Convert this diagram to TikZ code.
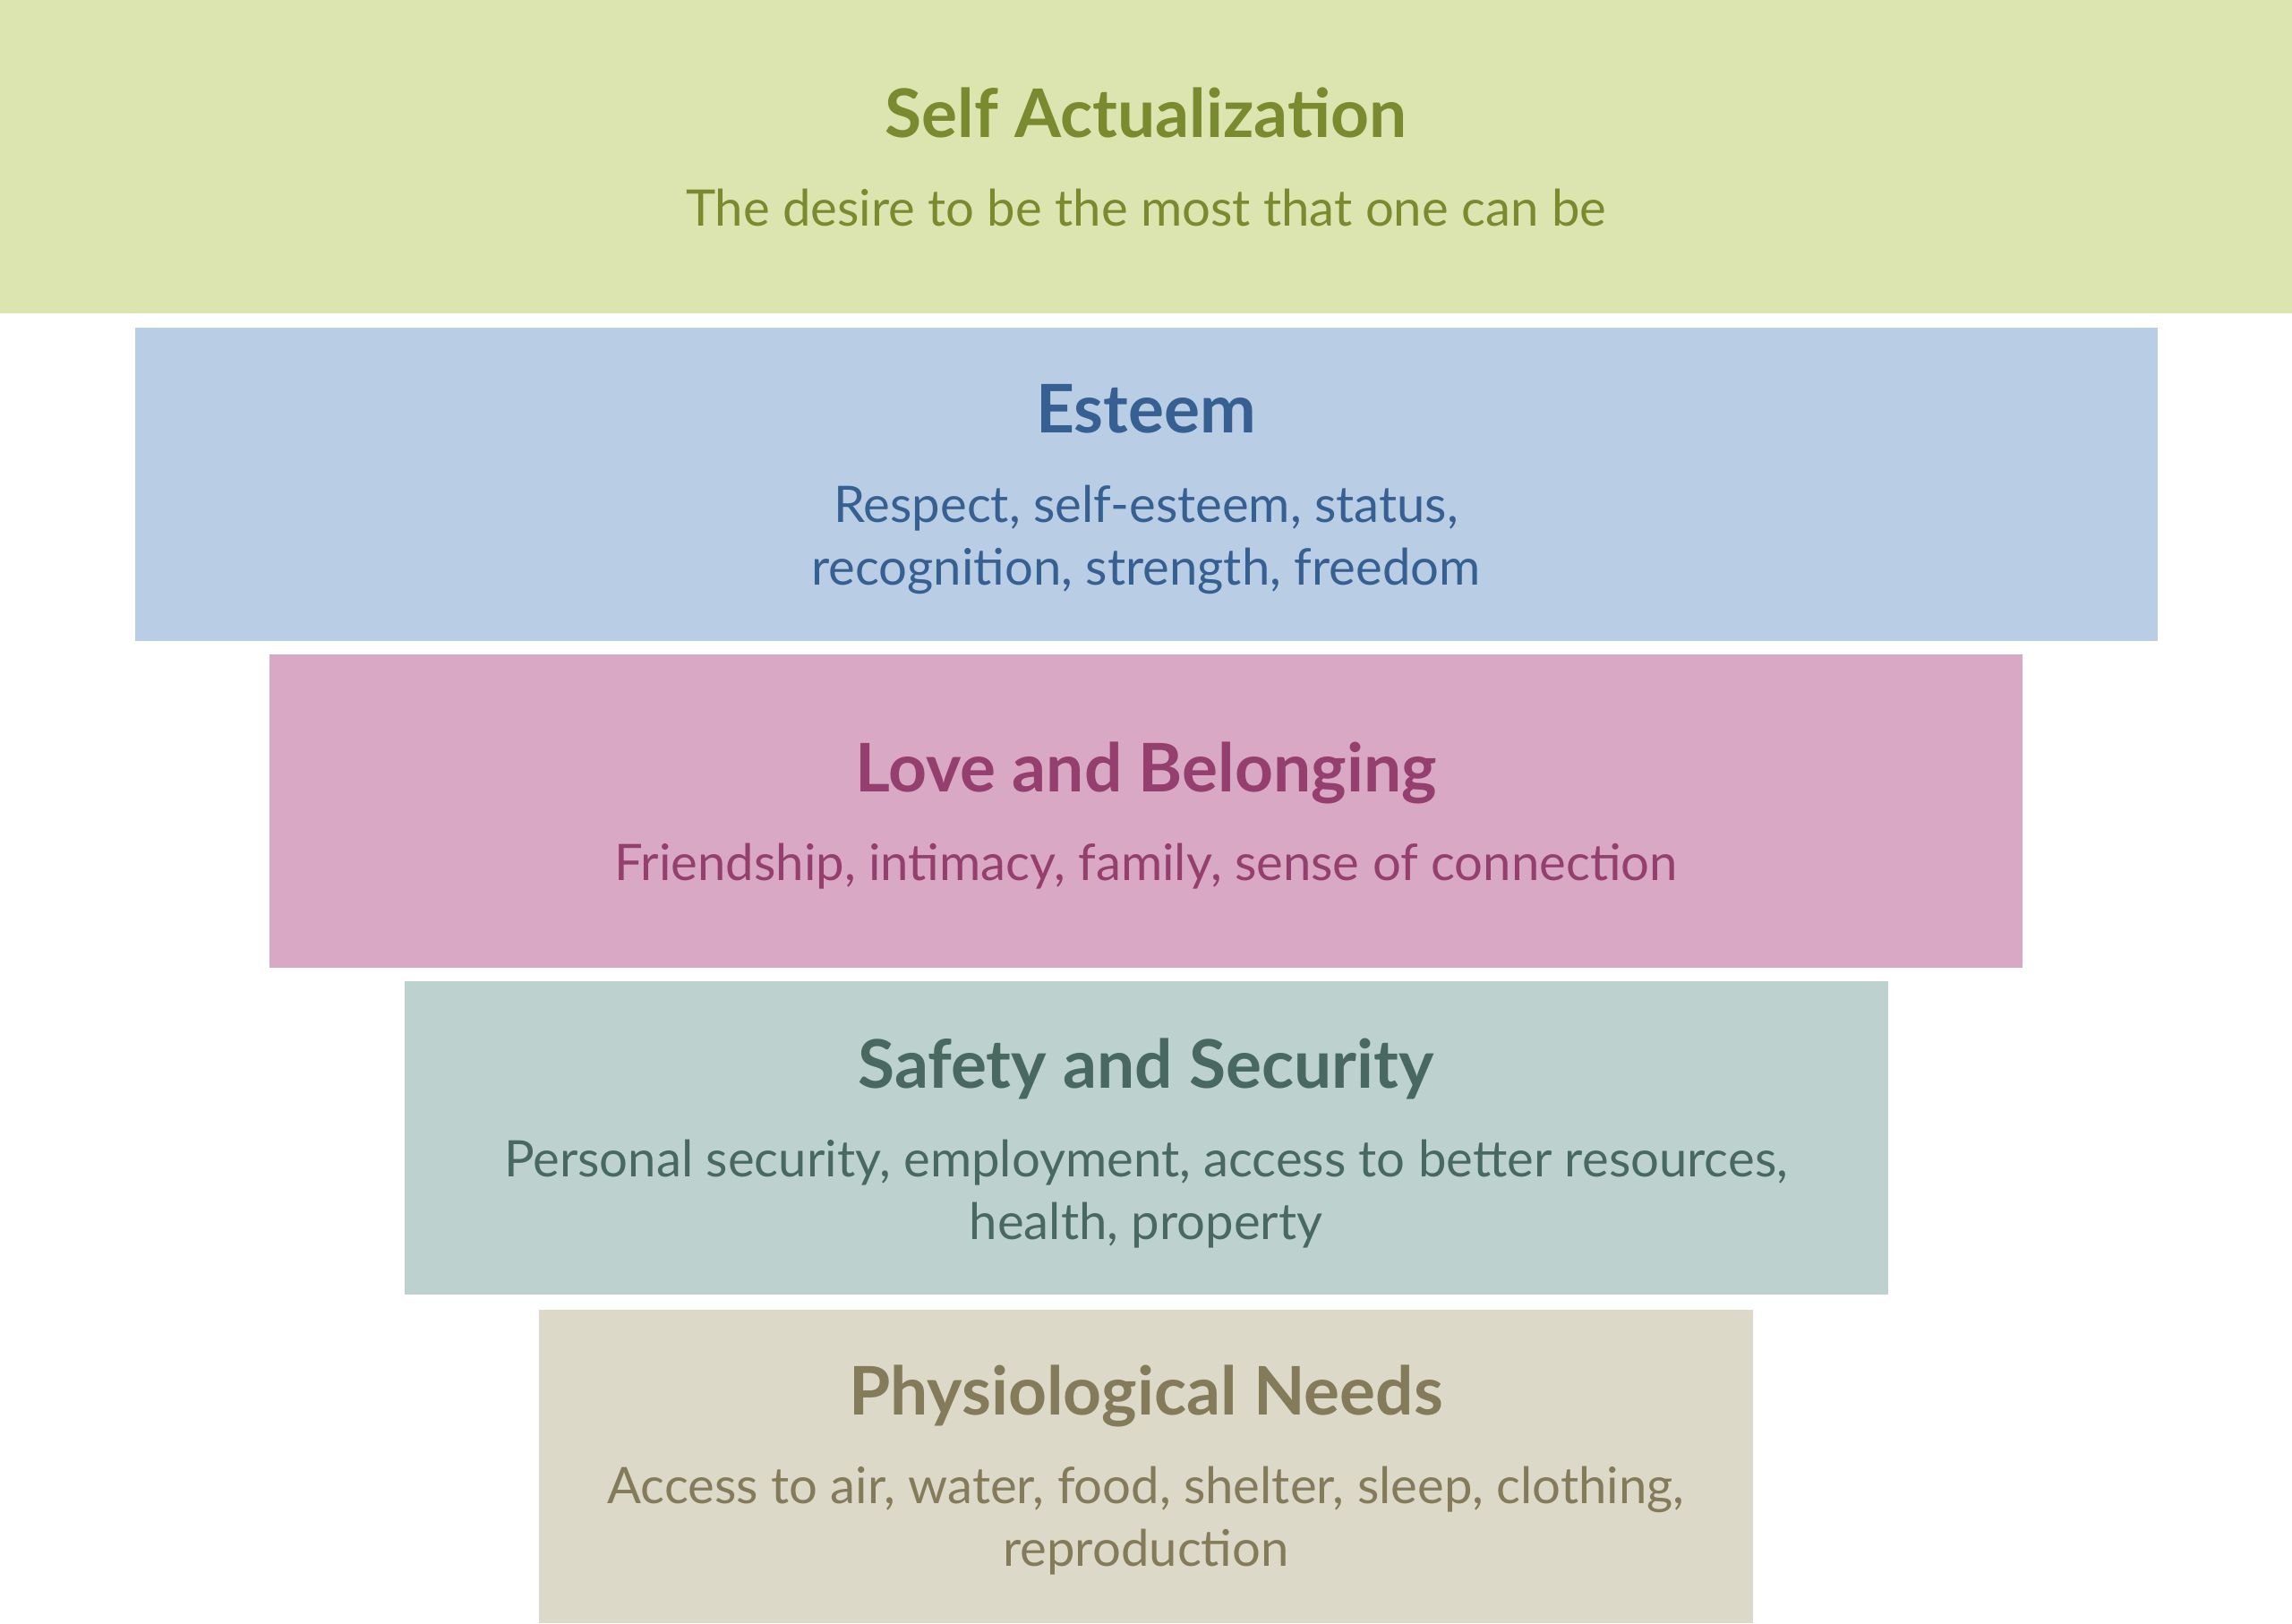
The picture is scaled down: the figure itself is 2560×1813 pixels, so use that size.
\documentclass[tikz,border=0pt]{standalone}
\usepackage{fontspec}
\setmainfont{Lato}
\usepackage{xcolor}
\usepackage{tikz}
\usetikzlibrary{positioning}

\definecolor{selffill}{RGB}{220,228,175}
\definecolor{selftext}{RGB}{122,138,46}
\definecolor{esteemfill}{RGB}{185,205,229}
\definecolor{esteemtext}{RGB}{55,96,146}
\definecolor{lovefill}{RGB}{217,168,197}
\definecolor{lovetext}{RGB}{149,63,110}
\definecolor{safefill}{RGB}{189,210,207}
\definecolor{safetext}{RGB}{73,105,96}
\definecolor{physfill}{RGB}{221,217,200}
\definecolor{phystext}{RGB}{132,123,91}

\tikzset{
  tier/.style={inner sep=0pt, outer sep=0pt, minimum height=35mm},
  heading/.style={font=\fontsize{21.3}{25}\selectfont\bfseries, inner sep=0pt, anchor=base},
  detail/.style={font=\fontsize{16}{19.9}\selectfont, inner sep=0pt, anchor=base, align=center}
}

\begin{document}
\begin{tikzpicture}[x=0.1mm, y=-0.1mm]

\useasboundingbox (0,0) rectangle (2560,1813);

% top tier
\node[tier, fill=selffill, minimum width=256mm] (self) at (1280,175) {};
\node[heading, text=selftext] (selfhead) at ([yshift=-15.3mm]self.north) {Self Actualization};
\node[detail, text=selftext] (selfdetail) at ([yshift=-9.9mm]selfhead.base) {The desire to be the most that one can be};

% second tier
\node[tier, fill=esteemfill, minimum width=225.9mm] (esteem) at (1280,540.5) {};
\node[heading, text=esteemtext] (esteemhead) at ([yshift=-11.8mm]esteem.north) {Esteem};
\node[detail, text=esteemtext] (esteemdetail) at ([yshift=-17mm]esteemhead.base) {Respect, self-esteem, status,\\recognition, strength, freedom};

% third tier
\node[tier, fill=lovefill, minimum width=195.8mm] (love) at (1280,906) {};
\node[heading, text=lovetext] (lovehead) at ([yshift=-15.3mm]love.north) {Love and Belonging};
\node[detail, text=lovetext] (lovedetail) at ([yshift=-9.9mm]lovehead.base) {Friendship, intimacy, family, sense of connection};

% fourth tier
\node[tier, fill=safefill, minimum width=165.7mm] (safe) at (1280,1271) {};
\node[heading, text=safetext] (safehead) at ([yshift=-11.9mm]safe.north) {Safety and Security};
\node[detail, text=safetext] (safedetail) at ([yshift=-16.9mm]safehead.base) {Personal security, employment, access to better resources,\\health, property};

% bottom tier
\node[tier, fill=physfill, minimum width=135.6mm] (phys) at (1280,1637.5) {};
\node[heading, text=phystext] (physhead) at ([yshift=-11.8mm]phys.north) {Physiological Needs};
\node[detail, text=phystext] (physdetail) at ([yshift=-16.9mm]physhead.base) {Access to air, water, food, shelter, sleep, clothing,\\reproduction};

\end{tikzpicture}
\end{document}
